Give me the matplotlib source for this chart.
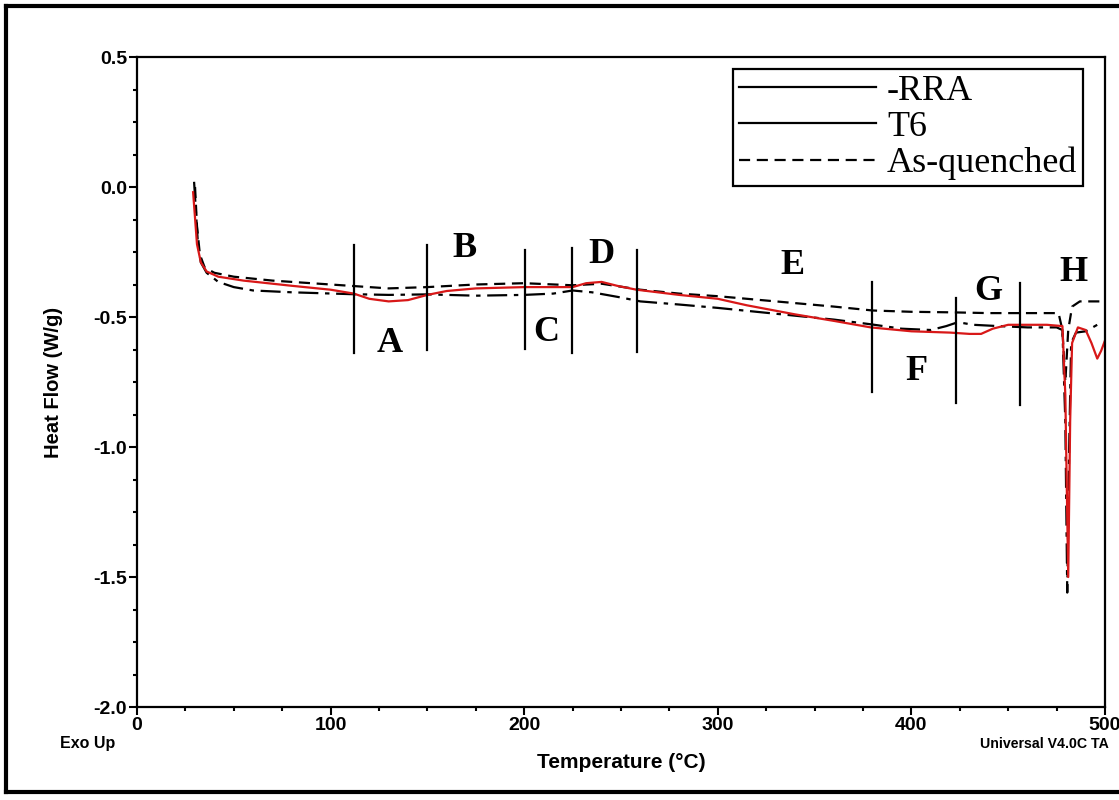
import numpy as np
import matplotlib
matplotlib.use("Agg")
import matplotlib.pyplot as plt
from matplotlib.lines import Line2D
from matplotlib.ticker import MultipleLocator

# RRA curve (dash-dot)
rra_t = [29.5, 30.5, 31.5, 33, 36, 42, 50, 60, 80, 110, 130, 150, 175, 200, 215,
         225, 235, 250, 260, 280, 300, 320, 340, 360, 379, 395, 410, 418, 424,
         432, 445, 460, 475, 478, 479.5, 480.5, 481.5, 482.5, 485, 490, 496, 498]
rra_hf = [0.02, -0.10, -0.22, -0.29, -0.33, -0.365, -0.385, -0.398, -0.405, -0.412,
          -0.415, -0.413, -0.418, -0.415, -0.41, -0.398, -0.405, -0.425, -0.44,
          -0.452, -0.465, -0.48, -0.495, -0.51, -0.528, -0.545, -0.55, -0.535,
          -0.52, -0.53, -0.535, -0.54, -0.54, -0.55, -0.9, -1.56, -1.0, -0.6,
          -0.56, -0.555, -0.53, -0.52]

# T6 curve (solid)
t6_t = [29, 30, 31, 33, 36, 42, 55, 80, 100, 112, 120, 130, 140, 150, 160, 175,
        200, 215, 225, 232, 240, 248, 258, 280, 300, 315, 340, 360, 379, 400, 420,
        430, 436, 442, 450, 470, 478, 479.5, 481, 482, 483, 486, 490, 493, 496,
        498, 500]
t6_hf = [-0.02, -0.12, -0.22, -0.29, -0.325, -0.345, -0.36, -0.38, -0.395, -0.41,
         -0.43, -0.44, -0.435, -0.415, -0.40, -0.39, -0.385, -0.385, -0.385, -0.37,
         -0.365, -0.38, -0.395, -0.415, -0.43, -0.455, -0.49, -0.515, -0.54,
         -0.555, -0.56, -0.565, -0.565, -0.545, -0.53, -0.53, -0.535, -0.8, -1.5,
         -0.9, -0.6, -0.54, -0.55, -0.6, -0.66, -0.63, -0.59]

# As-quenched curve (dashed)
aq_t = [30, 31, 32.5, 35, 40, 50, 70, 100, 130, 150, 175, 200, 225, 240, 260, 280,
        300, 330, 360, 380, 400, 420, 440, 460, 476, 478, 479.5, 481, 483, 487, 500]
aq_hf = [0.0, -0.15, -0.26, -0.31, -0.33, -0.345, -0.36, -0.375, -0.39, -0.385,
         -0.375, -0.37, -0.378, -0.372, -0.395, -0.41, -0.42, -0.44, -0.46, -0.475,
         -0.48, -0.482, -0.485, -0.485, -0.485, -0.55, -0.75, -0.55, -0.46, -0.44,
         -0.44]

# region separators
sep_t = [112, 150, 200.5, 224.5, 258.5, 379.5, 423, 456]
sep_top = [-0.223, -0.223, -0.242, -0.235, -0.242, -0.365, -0.427, -0.369]
sep_bottom = [-0.638, -0.627, -0.623, -0.638, -0.635, -0.788, -0.831, -0.838]

# region letters
region_names = ["A", "B", "C", "D", "E", "F", "G", "H"]
region_t = [130.7, 169.4, 211.3, 239.7, 338.8, 402.4, 439.5, 483.5]
region_hf = [-0.60, -0.235, -0.56, -0.26, -0.30, -0.71, -0.40, -0.33]

legend_labels = ["-RRA", "T6", "As-quenched"]

fig = plt.figure(figsize=(11.19, 8), dpi=100)
ax = fig.add_axes([0.1224, 0.11625, 0.8651, 0.8125])

ax.plot(rra_t, rra_hf, color="black", lw=1.6, linestyle=(0, (9, 3, 2, 3)))
ax.plot(aq_t, aq_hf, color="black", lw=1.6, linestyle=(0, (5, 3)))
ax.plot(t6_t, t6_hf, color="#d81818", lw=1.6)

for t, y0, y1 in zip(sep_t, sep_bottom, sep_top):
    ax.plot([t, t], [y0, y1], color="black", lw=1.6)

for name, t, y in zip(region_names, region_t, region_hf):
    ax.text(t, y, name, family="Liberation Serif", fontweight="bold",
            fontsize=26, ha="center", va="center")

ax.set_xlim(0, 500)
ax.set_ylim(-2.0, 0.5)
ax.xaxis.set_minor_locator(MultipleLocator(25))
ax.yaxis.set_minor_locator(MultipleLocator(0.125))
ax.set_xticks([0, 100, 200, 300, 400, 500])
ax.set_xticklabels(["0", "100", "200", "300", "400", "500"])
ax.set_yticks([0.5, 0.0, -0.5, -1.0, -1.5, -2.0])
ax.set_yticklabels(["0.5", "0.0", "-0.5", "-1.0", "-1.5", "-2.0"])
ax.tick_params(which="both", direction="out", width=1.5, labelsize=14)
ax.tick_params(which="major", length=6, pad=1)
ax.tick_params(which="minor", length=3)
for lab in ax.get_xticklabels() + ax.get_yticklabels():
    lab.set_fontweight("bold")
    lab.set_family("Liberation Sans")
for sp in ax.spines.values():
    sp.set_linewidth(1.6)

ax.set_xlabel("Temperature (°C)", fontsize=15, fontweight="bold",
              family="Liberation Sans", labelpad=14)
ax.set_ylabel("Heat Flow (W/g)", fontsize=14.5, fontweight="bold",
              family="Liberation Sans", labelpad=22)

fig.text(60 / 1119, 1 - 748 / 800, "Exo Up", fontsize=11.5, fontweight="bold",
         family="Liberation Sans")
fig.text(980 / 1119, 1 - 748 / 800, "Universal V4.0C TA", fontsize=10.2,
         fontweight="bold", family="Liberation Sans")

handles = [
    Line2D([], [], color="black", lw=1.6),
    Line2D([], [], color="black", lw=1.6),
    Line2D([], [], color="black", lw=1.6, linestyle=(0, (5, 3))),
]
leg = ax.legend(handles, legend_labels, loc="upper right",
                bbox_to_anchor=(0.977, 0.9815), borderaxespad=0,
                prop={"family": "Liberation Serif", "size": 26},
                fancybox=False, framealpha=1, edgecolor="black",
                handlelength=3.8, handletextpad=0.3, labelspacing=0.08,
                borderpad=0.15)
leg.get_frame().set_linewidth(1.6)

# page frame (left, top, bottom; the right side is cut off in the source)
frame_kw = dict(color="black", lw=3, transform=fig.transFigure)
fig.add_artist(Line2D([0.005, 0.005], [0.01, 0.993], **frame_kw))
fig.add_artist(Line2D([0.005, 1.0], [0.993, 0.993], **frame_kw))
fig.add_artist(Line2D([0.005, 1.0], [0.01, 0.01], **frame_kw))

fig.savefig("out.png", dpi=100)
